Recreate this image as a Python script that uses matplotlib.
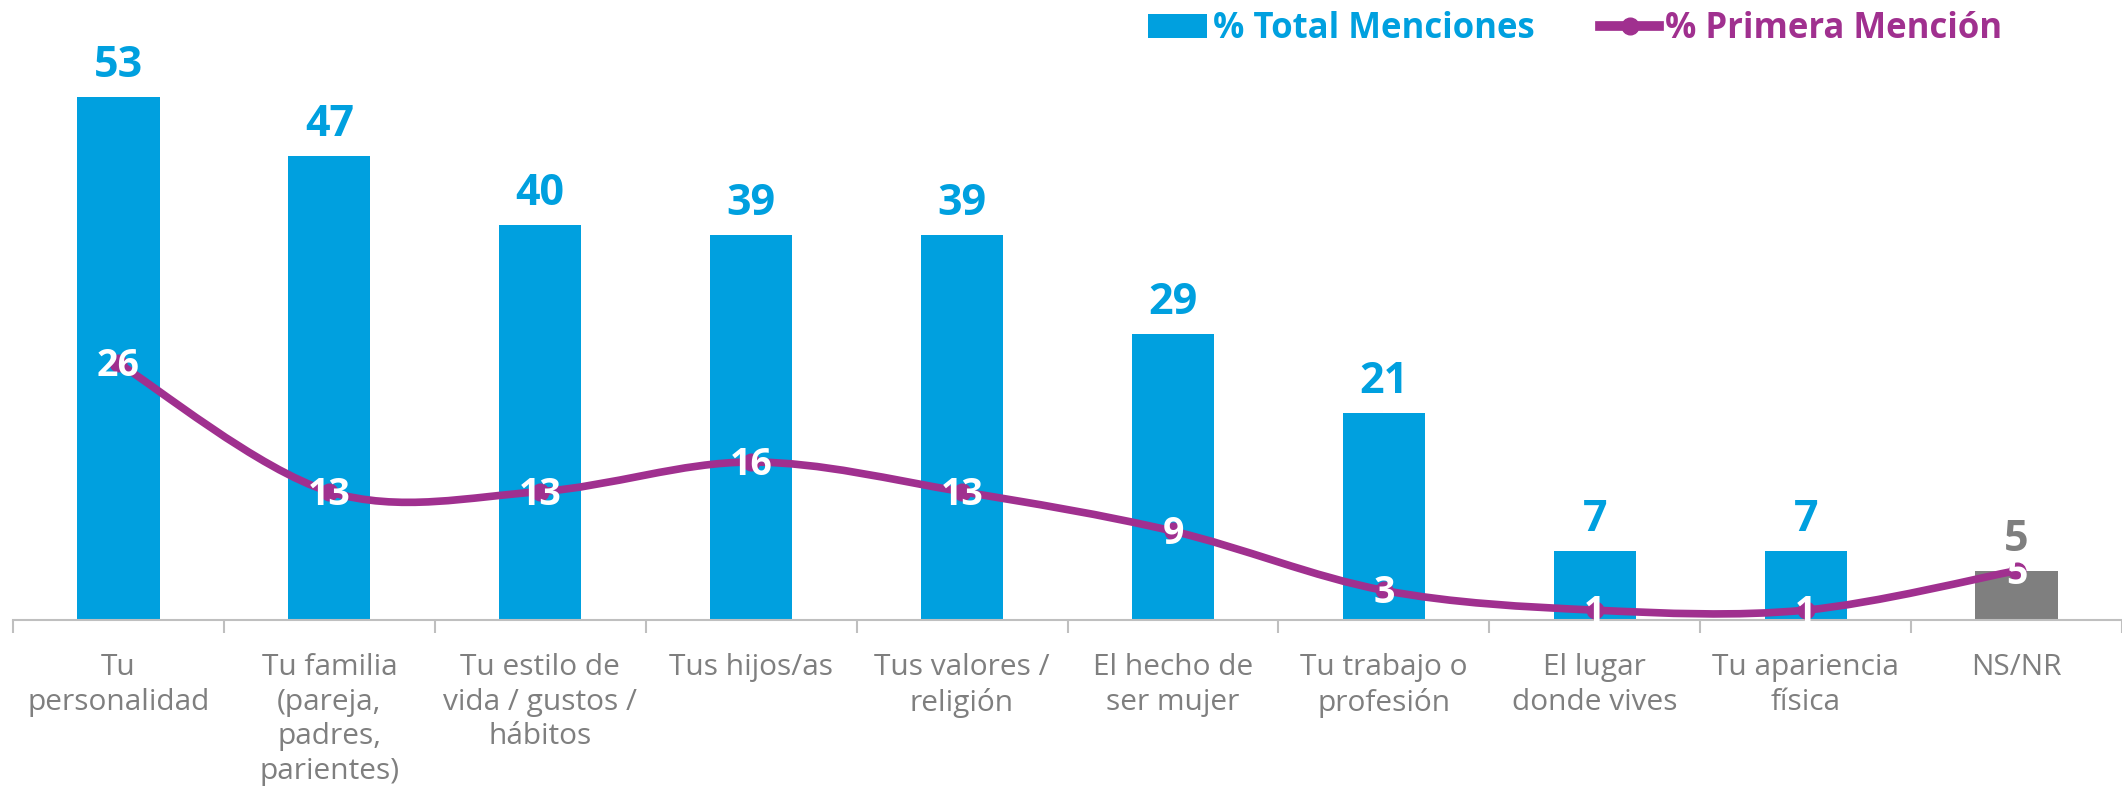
import matplotlib
matplotlib.use('Agg')
from matplotlib import pyplot as plt
from matplotlib.path import Path
from matplotlib.patches import PathPatch
from matplotlib.lines import Line2D
from matplotlib.patches import Patch

categorias = ['Tu\npersonalidad', 'Tu familia\n(pareja,\npadres,\nparientes)',
              'Tu estilo de\nvida / gustos /\nhábitos', 'Tus hijos/as',
              'Tus valores /\nreligión', 'El hecho de\nser mujer',
              'Tu trabajo o\nprofesión', 'El lugar\ndonde vives',
              'Tu apariencia\nfísica', 'NS/NR']
total_menciones = [53, 47, 40, 39, 39, 29, 21, 7, 7, 5]
primera_mencion = [26, 13, 13, 16, 13, 9, 3, 1, 1, 5]

AZUL = '#00A0DF'
MORADO = '#A0308F'
GRIS = '#7F7F7F'
FONT = 'Open Sans'

plt.rcParams['font.family'] = [FONT, 'DejaVu Sans']

fig = plt.figure(figsize=(21.22, 7.91), dpi=100)
ax = fig.add_axes([13 / 2122, 171 / 791, 2109 / 2122, 620 / 791])

x = list(range(len(categorias)))
colores = [AZUL] * (len(x) - 1) + [GRIS]
ax.bar(x, total_menciones, width=0.39, color=colores, zorder=2)

for xi, v, c in zip(x, total_menciones, colores):
    ax.annotate(str(v), (xi, v), xytext=(0, 7), textcoords='offset points',
                ha='center', va='bottom', fontsize=31, fontweight='bold', color=c)

# linea suavizada (bezier tipo catmull-rom, como Excel)
n = len(x)
verts = [(x[0], primera_mencion[0])]
codes = [Path.MOVETO]
for i in range(n - 1):
    p0 = (x[max(i - 1, 0)], primera_mencion[max(i - 1, 0)])
    p1 = (x[i], primera_mencion[i])
    p2 = (x[i + 1], primera_mencion[i + 1])
    p3 = (x[min(i + 2, n - 1)], primera_mencion[min(i + 2, n - 1)])
    c1 = (p1[0] + (p2[0] - p0[0]) / 6, p1[1] + (p2[1] - p0[1]) / 6)
    c2 = (p2[0] - (p3[0] - p1[0]) / 6, p2[1] - (p3[1] - p1[1]) / 6)
    verts += [c1, c2, p2]
    codes += [Path.CURVE4] * 3
ax.add_patch(PathPatch(Path(verts, codes), facecolor='none', edgecolor=MORADO,
                       lw=5.5, zorder=3, capstyle='round'))
ax.plot(x, primera_mencion, ls='none', marker='o', ms=12, color=MORADO, zorder=3)

for xi, v in zip(x, primera_mencion):
    ax.text(xi, v - 0.3, str(v), ha='center', va='center', fontsize=27,
            fontweight='bold', color='white', zorder=4)

ax.set_xlim(-0.5, len(x) - 0.5)
ax.set_ylim(0, 62.8)
ax.set_yticks([])
for s in ['left', 'right', 'top']:
    ax.spines[s].set_visible(False)
ax.spines['bottom'].set_color('#BFBFBF')
ax.spines['bottom'].set_linewidth(1.5)

ax.set_xticks(x)
ax.set_xticklabels(categorias, fontsize=21.5, color=GRIS, linespacing=1.25)
ax.tick_params(axis='x', which='major', length=0, pad=24)
ax.set_xticks([i - 0.5 for i in range(len(x) + 1)], minor=True)
ax.tick_params(axis='x', which='minor', length=9, width=1.5, color='#BFBFBF')

handles = [Patch(facecolor=AZUL),
           Line2D([0], [0], color=MORADO, lw=7, marker='o', ms=12)]
leg = fig.legend(handles, ['% Total Menciones', '% Primera Mención'],
                 loc='upper right', bbox_to_anchor=(0.958, 1.025), ncol=2,
                 frameon=False, handlelength=1.7, handletextpad=0.15,
                 columnspacing=1.9, labelcolor=[AZUL, MORADO],
                 prop={'family': FONT, 'weight': 'bold', 'size': 25})

fig.savefig('out.png', dpi=100)
